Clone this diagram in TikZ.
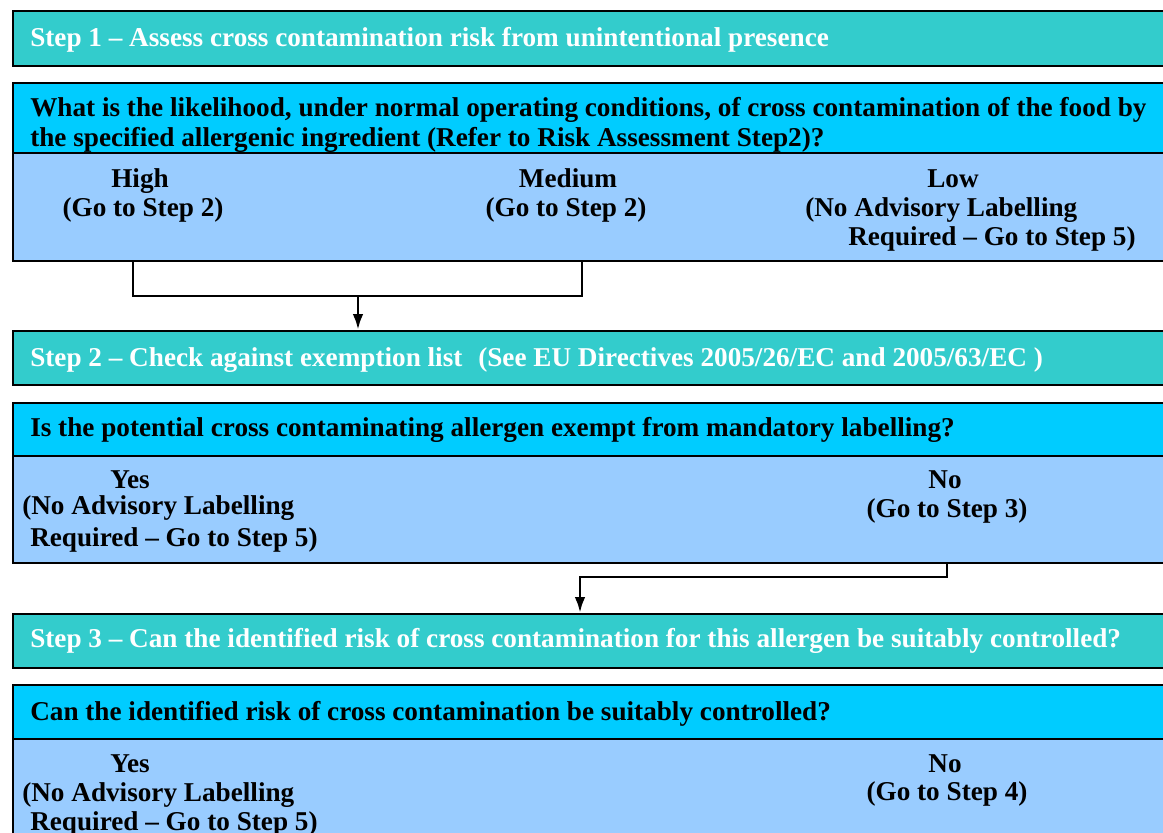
\documentclass[tikz,border=0pt]{standalone}
\usepackage{fontspec}
\setmainfont{Liberation Serif}
\usetikzlibrary{arrows.meta}
\definecolor{stepteal}{HTML}{33CCCC}
\definecolor{askcyan}{HTML}{00CCFF}
\definecolor{answerblue}{HTML}{99CCFF}
\newcommand\chartsize{\fontsize{20.4}{24}\selectfont\bfseries}
\tikzset{
  stepbox/.style={draw=black, line width=1.3pt, fill=stepteal, anchor=north west,
    minimum width=885pt, inner sep=0pt},
  askbox/.style={stepbox, fill=askcyan},
  ansbox/.style={stepbox, fill=answerblue},
  steptxt/.style={anchor=base west, inner sep=0pt, text=white, font=\chartsize},
  asktxt/.style={anchor=base west, inner sep=0pt, font=\chartsize},
  anstxt/.style={anchor=base, inner sep=0pt, font=\chartsize},
  leftans/.style={anchor=base west, inner sep=0pt, font=\chartsize},
  link/.style={line width=2.2pt},
  arr/.style={link, -{Latex[length=12pt,width=8pt]}}
}
\begin{document}
\begin{tikzpicture}[x=0.75pt, y=-0.75pt]
  \useasboundingbox (0,0) rectangle (1163,832);
  \clip (0,0) rectangle (1163,832);

  % step 1
  \node[stepbox, minimum height=41.25pt] (step1) at (12,10) {};
  \node[steptxt] (step1txt) at (30,46) {Step 1 -- Assess cross contamination risk from unintentional presence};

  \node[askbox, minimum height=52.5pt] (ask1) at (12,82) {};
  \node[asktxt] (ask1a) at (30,116) {What is the likelihood, under normal operating conditions, of cross contamination of the food by};
  \node[asktxt] (ask1b) at (30,146) {the specified allergenic ingredient (Refer to Risk Assessment Step2)?};

  \node[ansbox, minimum height=81pt] (ans1) at (12,152) {};
  \node[anstxt] (high) at (140,187) {High};
  \node[anstxt] (highgo) at (143,216) {(Go to Step 2)};
  \node[anstxt] (medium) at (568,187) {Medium};
  \node[anstxt] (mediumgo) at (566,216) {(Go to Step 2)};
  \node[anstxt] (low) at (953,187) {Low};
  \node[leftans] (lowno) at (805,216) {(No Advisory Labelling};
  \node[leftans] (lowreq) at (848,245) {Required -- Go to Step 5)};

  \coordinate (highout) at (133,260);
  \coordinate (mediumout) at (582,260);
  \coordinate (join1) at (358,296);
  \draw[link] (highout) |- (join1) -| (mediumout);

  % step 2
  \node[stepbox, minimum height=40.5pt] (step2) at (12,330) {};
  \node[steptxt] (step2txt) at (30,366) {Step 2 -- Check against exemption list};
  \node[steptxt] (step2see) at (478,366) {(See EU Directives 2005/26/EC and 2005/63/EC )};
  \draw[arr] (join1) -- (join1 |- step2.north);

  \node[askbox, minimum height=39.75pt] (ask2) at (12,402) {};
  \node[asktxt] (ask2txt) at (30,436) {Is the potential cross contaminating allergen exempt from mandatory labelling?};

  \node[ansbox, minimum height=80.25pt] (ans2) at (12,455) {};
  \node[anstxt] (yes2) at (130,488) {Yes};
  \node[leftans] (yes2no) at (22,514) {(No Advisory Labelling};
  \node[leftans] (yes2req) at (30,546) {Required -- Go to Step 5)};
  \node[anstxt] (no2) at (945,488) {No};
  \node[anstxt] (no2go) at (947,517) {(Go to Step 3)};

  % step 3
  \node[stepbox, minimum height=40.5pt] (step3) at (12,613) {};
  \node[steptxt] (step3txt) at (30,647) {Step 3 -- Can the identified risk of cross contamination for this allergen be suitably controlled?};

  \coordinate (no2out) at (947,562);
  \coordinate (in3) at (580,577);
  \draw[arr] (no2out) |- (in3) -- (in3 |- step3.north);

  \node[askbox, minimum height=40.5pt] (ask3) at (12,684) {};
  \node[asktxt] (ask3txt) at (30,720) {Can the identified risk of cross contamination be suitably controlled?};

  \node[ansbox, minimum height=90pt] (ans3) at (12,738) {};
  \node[anstxt] (yes3) at (130,772) {Yes};
  \node[leftans] (yes3no) at (22,801) {(No Advisory Labelling};
  \node[leftans] (yes3req) at (30,830) {Required -- Go to Step 5)};
  \node[anstxt] (no3) at (945,772) {No};
  \node[anstxt] (no3go) at (947,800) {(Go to Step 4)};
\end{tikzpicture}
\end{document}
